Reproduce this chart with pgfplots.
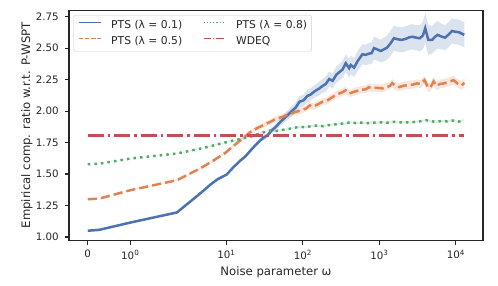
\documentclass[border=0pt]{standalone}
\usepackage{fontspec}
\setmainfont{DejaVu Sans}
\usepackage{pgfplots}
\pgfplotsset{compat=1.18}
\usepgfplotslibrary{fillbetween}
\usepackage{pgfplotstable}
\definecolor{c1}{HTML}{4C72B0}
\definecolor{c2}{HTML}{DD8452}
\definecolor{c3}{HTML}{55A868}
\definecolor{c4}{HTML}{C44E52}
\definecolor{axc}{HTML}{262626}
\newcommand{\lblfont}{\fontsize{11.7}{14}\selectfont}
\newcommand{\tckfont}{\fontsize{10.3}{12}\selectfont}
\newcommand{\legfont}{\fontsize{10.8}{13}\selectfont}

\pgfplotstableread{
t y lo hi
0 1.050 1.050 1.050
0.15 1.057 1.057 1.057
0.558 1.115 1.113 1.117
1.165 1.195 1.192 1.198
1.30 1.262 1.258 1.266
1.468 1.345 1.340 1.350
1.60 1.415 1.409 1.421
1.70 1.460 1.454 1.466
1.814 1.495 1.487 1.503
1.90 1.552 1.542 1.562
2.00 1.610 1.598 1.622
2.06 1.640 1.628 1.652
2.117 1.680 1.666 1.694
2.20 1.735 1.719 1.751
2.25 1.765 1.747 1.783
2.30 1.790 1.770 1.810
2.355 1.810 1.788 1.832
2.40 1.845 1.821 1.869
2.45 1.870 1.844 1.896
2.52 1.915 1.885 1.945
2.59 1.955 1.920 1.990
2.65 1.990 1.950 2.030
2.72 2.030 1.990 2.070
2.766 2.074 2.029 2.119
2.82 2.085 2.040 2.130
2.87 2.120 2.070 2.170
2.91 2.130 2.080 2.180
2.96 2.155 2.105 2.205
3.026 2.180 2.125 2.235
3.07 2.200 2.145 2.255
3.11 2.215 2.155 2.275
3.156 2.255 2.195 2.315
3.20 2.240 2.180 2.300
3.25 2.290 2.225 2.355
3.29 2.310 2.245 2.375
3.33 2.330 2.260 2.400
3.372 2.380 2.310 2.450
3.416 2.340 2.265 2.415
3.437 2.366 2.291 2.441
3.48 2.345 2.270 2.420
3.53 2.400 2.320 2.480
3.59 2.451 2.371 2.531
3.63 2.446 2.366 2.526
3.67 2.455 2.370 2.540
3.71 2.460 2.375 2.545
3.74 2.500 2.410 2.590
3.78 2.490 2.400 2.580
3.83 2.477 2.387 2.567
3.87 2.490 2.395 2.585
3.91 2.503 2.408 2.598
3.96 2.540 2.440 2.640
4.00 2.578 2.478 2.678
4.05 2.570 2.470 2.670
4.10 2.565 2.465 2.665
4.15 2.572 2.472 2.672
4.20 2.585 2.485 2.685
4.24 2.590 2.490 2.690
4.29 2.583 2.483 2.683
4.34 2.578 2.473 2.683
4.38 2.600 2.490 2.710
4.41 2.658 2.538 2.778
4.45 2.565 2.445 2.685
4.50 2.565 2.455 2.675
4.54 2.590 2.480 2.700
4.57 2.605 2.495 2.715
4.63 2.590 2.490 2.690
4.67 2.583 2.483 2.683
4.72 2.610 2.510 2.710
4.76 2.636 2.536 2.736
4.80 2.630 2.530 2.730
4.85 2.626 2.526 2.726
4.92 2.605 2.505 2.705
}\blueT

\pgfplotstableread{
t y lo hi
0 1.300 1.300 1.300
0.15 1.305 1.305 1.305
0.558 1.372 1.369 1.375
1.165 1.451 1.446 1.456
1.468 1.544 1.536 1.552
1.65 1.610 1.600 1.620
1.814 1.675 1.663 1.687
1.857 1.700 1.688 1.712
2.00 1.770 1.755 1.785
2.117 1.830 1.814 1.846
2.20 1.860 1.842 1.878
2.30 1.890 1.870 1.910
2.377 1.912 1.892 1.932
2.45 1.935 1.913 1.957
2.55 1.955 1.933 1.977
2.636 1.978 1.954 2.002
2.70 1.990 1.965 2.015
2.76 2.000 1.975 2.025
2.853 2.020 1.995 2.045
2.90 2.045 2.019 2.071
2.95 2.035 2.009 2.061
3.026 2.060 2.033 2.087
3.07 2.074 2.047 2.101
3.12 2.080 2.052 2.108
3.17 2.100 2.072 2.128
3.24 2.127 2.099 2.155
3.29 2.141 2.111 2.171
3.33 2.150 2.120 2.180
3.37 2.165 2.135 2.195
3.42 2.140 2.110 2.170
3.46 2.149 2.119 2.179
3.52 2.160 2.130 2.190
3.58 2.170 2.140 2.200
3.63 2.172 2.142 2.202
3.675 2.189 2.159 2.219
3.72 2.180 2.150 2.210
3.77 2.185 2.155 2.215
3.85 2.180 2.150 2.210
3.90 2.190 2.160 2.220
3.95 2.200 2.170 2.230
3.98 2.222 2.190 2.254
4.02 2.200 2.168 2.232
4.07 2.190 2.158 2.222
4.12 2.200 2.168 2.232
4.19 2.207 2.175 2.239
4.25 2.210 2.178 2.242
4.30 2.220 2.188 2.252
4.35 2.215 2.183 2.247
4.40 2.245 2.210 2.280
4.45 2.185 2.150 2.220
4.48 2.190 2.155 2.225
4.52 2.235 2.200 2.270
4.56 2.200 2.165 2.235
4.60 2.215 2.180 2.250
4.66 2.220 2.185 2.255
4.72 2.233 2.198 2.268
4.78 2.245 2.210 2.280
4.83 2.220 2.185 2.255
4.89 2.205 2.170 2.240
4.92 2.225 2.190 2.260
}\orangeT

\pgfplotstableread{
t y lo hi
0 1.578 1.578 1.578
0.15 1.582 1.582 1.582
0.558 1.623 1.622 1.624
1.165 1.663 1.661 1.665
1.50 1.705 1.702 1.708
1.857 1.760 1.756 1.764
2.117 1.795 1.790 1.800
2.25 1.823 1.817 1.829
2.377 1.845 1.839 1.851
2.45 1.840 1.833 1.847
2.52 1.848 1.841 1.855
2.60 1.855 1.848 1.862
2.68 1.865 1.858 1.872
2.766 1.875 1.867 1.883
2.85 1.872 1.864 1.880
2.93 1.882 1.874 1.890
3.00 1.885 1.877 1.893
3.07 1.880 1.872 1.888
3.14 1.888 1.880 1.896
3.22 1.893 1.885 1.901
3.29 1.902 1.894 1.910
3.36 1.898 1.890 1.906
3.43 1.912 1.904 1.920
3.50 1.905 1.897 1.913
3.57 1.908 1.900 1.916
3.64 1.902 1.894 1.910
3.71 1.910 1.902 1.918
3.78 1.906 1.898 1.914
3.85 1.912 1.904 1.920
3.92 1.908 1.900 1.916
4.00 1.915 1.907 1.923
4.07 1.910 1.902 1.918
4.14 1.913 1.905 1.921
4.21 1.908 1.900 1.916
4.28 1.915 1.907 1.923
4.35 1.920 1.912 1.928
4.42 1.928 1.920 1.936
4.49 1.918 1.910 1.926
4.56 1.915 1.907 1.923
4.63 1.922 1.914 1.930
4.70 1.918 1.910 1.926
4.77 1.925 1.917 1.933
4.84 1.915 1.907 1.923
4.92 1.928 1.920 1.936
}\greenT

\pgfplotstableread{
t y
0 1.805
4.92 1.805
}\redT

\begin{document}
\begin{tikzpicture}
\begin{axis}[
  scale only axis,
  width=414bp, height=230bp,
  xmin=-0.245, xmax=5.165,
  ymin=0.974, ymax=2.80,
  axis line style={axc, line width=1.25bp},
  tick align=outside,
  major tick length=4.3bp,
  tick style={axc, line width=1.1bp},
  xtick pos=bottom, ytick pos=left,
  xtick={0,0.5556,1.8111,2.8111,3.8111,4.8111},
  xticklabels={\tckfont 0,\tckfont 10\textsuperscript{0},\tckfont 10\textsuperscript{1},\tckfont 10\textsuperscript{2},\tckfont 10\textsuperscript{3},\tckfont 10\textsuperscript{4}},
  ytick={1,1.25,1.5,1.75,2,2.25,2.5,2.75},
  yticklabels={1.00,1.25,1.50,1.75,2.00,2.25,2.50,2.75},
  ticklabel style={font=\tckfont, text=axc},
  xticklabel shift=2bp,
  yticklabel shift=2.5bp,
  xlabel={\lblfont Noise parameter ω},
  ylabel={\lblfont Empirical comp. ratio w.r.t. P-WSPT},
  every axis x label/.style={at={(axis description cs:0.5,-0.152)}, anchor=base, font=\lblfont, text=axc},
  every axis y label/.style={at={(axis description cs:-0.0942,0.5)}, anchor=base, rotate=90, font=\lblfont, text=axc},
  legend columns=2,
  legend style={at={(axis description cs:0,1)}, anchor=north west, xshift=4.3bp, yshift=-4.7bp,
    font=\legfont, text=axc, draw=black!20, rounded corners=2.5bp,
    fill=white, fill opacity=0.8, text opacity=1, inner xsep=4.5bp, inner ysep=5bp,
    nodes={inner sep=0bp, text height=8bp, text depth=2.3bp},
    row sep=5.7bp,
    /tikz/every odd column/.append style={column sep=10bp},
    /tikz/every even column/.append style={column sep=20.7bp}},
  legend cell align=left,
  legend image code/.code={\draw[#1] (0bp,2.9bp) -- (22bp,2.9bp);},
]
\addlegendimage{c1, line width=1.2bp}
\addlegendentry{\legfont PTS (λ = 0.1)}
\addlegendimage{c3, line width=1.2bp, dash pattern=on 1.2bp off 2bp}
\addlegendentry{\legfont PTS (λ = 0.8)}
\addlegendimage{c2, line width=1.2bp, dash pattern=on 4.4bp off 1.9bp}
\addlegendentry{\legfont PTS (λ = 0.5)}
\addlegendimage{c4, line width=1.2bp, dash pattern=on 7.7bp off 1.9bp on 1.2bp off 1.9bp}
\addlegendentry{\legfont WDEQ}

\addplot[name path=bu, draw=none, forget plot] table[x=t,y=hi]{\blueT};
\addplot[name path=bl, draw=none, forget plot] table[x=t,y=lo]{\blueT};
\addplot[fill=c1, fill opacity=0.2, draw=none, forget plot] fill between[of=bu and bl];
\addplot[name path=ou, draw=none, forget plot] table[x=t,y=hi]{\orangeT};
\addplot[name path=ol, draw=none, forget plot] table[x=t,y=lo]{\orangeT};
\addplot[fill=c2, fill opacity=0.2, draw=none, forget plot] fill between[of=ou and ol];
\addplot[name path=gu, draw=none, forget plot] table[x=t,y=hi]{\greenT};
\addplot[name path=gl, draw=none, forget plot] table[x=t,y=lo]{\greenT};
\addplot[fill=c3, fill opacity=0.2, draw=none, forget plot] fill between[of=gu and gl];

\addplot[c1, line width=2.5bp, forget plot] table[x=t,y=y]{\blueT};
\addplot[c2, line width=2.5bp, dash pattern=on 9.2bp off 4bp, forget plot] table[x=t,y=y]{\orangeT};
\addplot[c3, line width=2.5bp, dash pattern=on 2.5bp off 4.1bp, forget plot] table[x=t,y=y]{\greenT};
\addplot[c4, line width=2.5bp, dash pattern=on 16bp off 4bp on 2.5bp off 4bp, forget plot] table[x=t,y=y]{\redT};
\end{axis}
\pgfresetboundingbox
\path[use as bounding box] (-69bp,-45bp) rectangle (429bp,240.3bp);
\end{tikzpicture}
\end{document}
